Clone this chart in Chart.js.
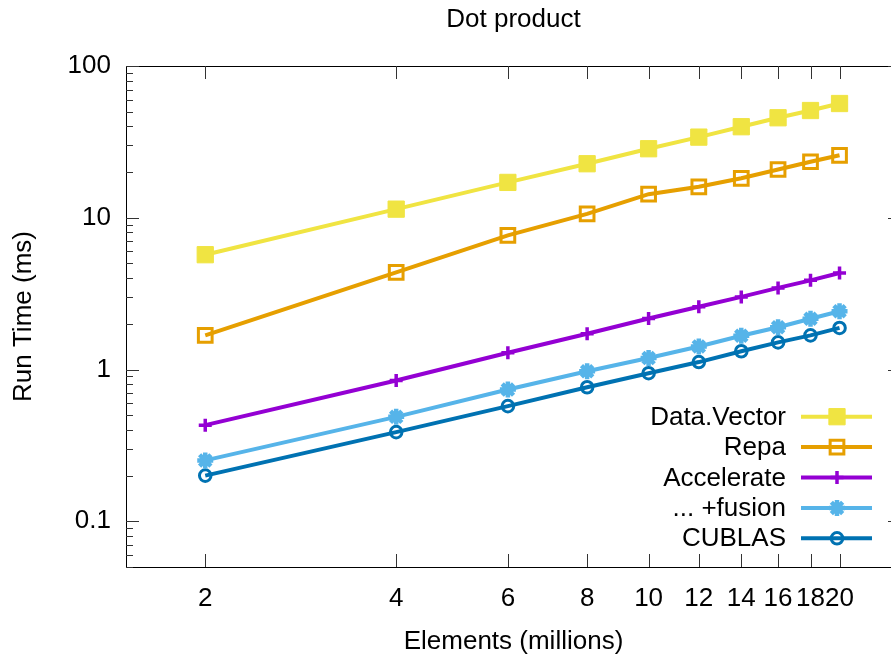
<!DOCTYPE html>
<html><head><meta charset="utf-8">
<script src="https://cdn.jsdelivr.net/npm/chart.js@4.4.1/dist/chart.umd.min.js"></script>
<style>html,body{margin:0;padding:0;background:#fff;overflow:hidden;width:891px;height:657px;}</style>
</head><body>
<canvas id="c" width="901" height="657"></canvas>
<script>
// ---- data ----
const titleText = 'Dot product';
const xLabel = 'Elements (millions)';
const yLabel = 'Run Time (ms)';
const elements = [2, 4, 6, 8, 10, 12, 14, 16, 18, 20];
const xTickValues = [2, 4, 6, 8, 10, 12, 14, 16, 18, 20];
const yMajorTicks = [0.1, 1, 10, 100];
const yMinorTicks = [0.05, 0.06, 0.07, 0.08, 0.09, 0.2, 0.3, 0.4, 0.5, 0.6, 0.7, 0.8, 0.9,
  2, 3, 4, 5, 6, 7, 8, 9, 20, 30, 40, 50, 60, 70, 80, 90];
const seriesNames = ['Data.Vector', 'Repa', 'Accelerate', '... +fusion', 'CUBLAS'];
const dataVector = [5.71, 11.4, 17.1, 22.7, 28.5, 34.0, 39.8, 45.6, 50.9, 56.6];
const repa       = [1.68, 4.37, 7.66, 10.6, 14.3, 16.0, 18.2, 20.8, 23.4, 25.8];
const accelerate = [0.430, 0.846, 1.29, 1.72, 2.17, 2.59, 3.01, 3.45, 3.87, 4.33];
const fusion     = [0.252, 0.488, 0.738, 0.975, 1.19, 1.42, 1.67, 1.90, 2.16, 2.42];
const cublas     = [0.200, 0.387, 0.574, 0.764, 0.946, 1.12, 1.32, 1.51, 1.68, 1.88];

// ---- styling ----
const FONT = "'Liberation Sans', Arial, Helvetica, sans-serif";
const FS = 26;
Chart.defaults.color = '#000';
Chart.defaults.font.family = FONT;
Chart.defaults.font.size = FS;

function ds(label, values, color, style, radius, bw, filled) {
  return {
    label: label,
    data: elements.map((x, i) => ({x: x, y: values[i]})),
    borderColor: color,
    backgroundColor: color,
    borderWidth: 4,
    pointStyle: style,
    pointRadius: radius,
    pointBorderWidth: bw,
    pointBorderColor: color,
    pointBackgroundColor: filled ? color : 'rgba(0,0,0,0)',
    tension: 0
  };
}

const datasets = [
  ds(seriesNames[0], dataVector, '#f0e442', 'rect', 11.5, 1, true),
  ds(seriesNames[1], repa, '#e69f00', 'rect', 9.7, 3, false),
  ds(seriesNames[2], accelerate, '#9400d3', 'cross', 6.5, 3.5, false),
  ds(seriesNames[3], fusion, '#56b4e9', 'star', 8, 4.5, false),
  ds(seriesNames[4], cublas, '#0072b2', 'circle', 5.8, 3, false)
];

const decor = {
  id: 'decor',
  beforeDatasetsDraw(chart) {
    const ctx = chart.ctx, a = chart.chartArea;
    const xs = chart.scales.x, ys = chart.scales.y;
    ctx.save();
    ctx.strokeStyle = '#000';
    ctx.lineWidth = 1;
    ctx.beginPath();
    ctx.rect(Math.round(a.left) + 0.5, Math.round(a.top) + 0.5,
             Math.round(a.right - a.left), Math.round(a.bottom - a.top));
    ctx.stroke();
    ctx.strokeStyle = '#333';
    ctx.beginPath();
    xTickValues.forEach(v => {
      const px = Math.round(xs.getPixelForValue(v)) + 0.5;
      ctx.moveTo(px, a.bottom); ctx.lineTo(px, a.bottom - 13);
      ctx.moveTo(px, a.top); ctx.lineTo(px, a.top + 13);
    });
    const yt = (v, len) => {
      const py = Math.round(ys.getPixelForValue(v)) + 0.5;
      ctx.moveTo(a.left, py); ctx.lineTo(a.left + len, py);
      ctx.moveTo(a.right, py); ctx.lineTo(a.right - len, py);
    };
    yMajorTicks.forEach(v => yt(v, 13));
    yMinorTicks.forEach(v => yt(v, 7));
    ctx.stroke();
    ctx.restore();
  },
  afterDraw(chart) {
    const ctx = chart.ctx, a = chart.chartArea;
    ctx.save();
    ctx.fillStyle = '#000';
    ctx.font = FS + 'px ' + FONT;
    ctx.textAlign = 'center';
    ctx.textBaseline = 'alphabetic';
    ctx.fillText(titleText, (a.left + a.right) / 2, 27);
    // legend
    const textRight = 786, lx1 = 801, lx2 = 872, mx = 837, y0 = 416.7, dy = 30.4;
    chart.data.datasets.forEach((d, i) => {
      const y = y0 + i * dy;
      ctx.fillStyle = '#000';
      ctx.textAlign = 'right';
      ctx.textBaseline = 'middle';
      ctx.fillText(d.label, textRight, y + 1);
      ctx.strokeStyle = d.borderColor;
      ctx.lineWidth = d.borderWidth;
      ctx.beginPath();
      ctx.moveTo(lx1, y); ctx.lineTo(lx2, y);
      ctx.stroke();
      ctx.strokeStyle = d.pointBorderColor;
      ctx.fillStyle = d.pointBackgroundColor;
      ctx.lineWidth = d.pointBorderWidth;
      Chart.helpers.drawPoint(ctx, {pointStyle: d.pointStyle, radius: d.pointRadius,
        borderWidth: d.pointBorderWidth, rotation: 0}, mx, y);
    });
    ctx.restore();
  }
};

new Chart(document.getElementById('c'), {
  type: 'line',
  data: {datasets: datasets},
  plugins: [decor],
  options: {
    responsive: false,
    animation: false,
    events: [],
    layout: {autoPadding: false, padding: {top: 66, right: 0, left: 0, bottom: 0}},
    plugins: {legend: {display: false}, title: {display: false}, tooltip: {enabled: false}},
    scales: {
      x: {
        type: 'logarithmic',
        min: 1.5, max: 25,
        afterBuildTicks: s => { s.ticks = xTickValues.map(v => ({value: v})); },
        afterFit: s => { s.height = 90; s.paddingLeft = 0; s.paddingRight = 0; },
        grid: {display: false, drawTicks: false},
        border: {display: false},
        ticks: {autoSkip: false, maxRotation: 0, minRotation: 0, padding: 16,
          callback: v => String(v), font: {size: FS}},
        title: {display: true, text: xLabel, font: {size: FS}, padding: {top: 0, bottom: 0}}
      },
      y: {
        type: 'logarithmic',
        min: 0.05, max: 100,
        afterBuildTicks: s => {
          s.ticks = yMinorTicks.concat(yMajorTicks).sort((p, q) => p - q).map(v => ({value: v}));
        },
        afterFit: s => { s.width = 126; s.paddingTop = 0; s.paddingBottom = 0; },
        grid: {display: false, drawTicks: false},
        border: {display: false},
        ticks: {autoSkip: false, padding: 15,
          callback: v => (yMajorTicks.indexOf(v) >= 0 ? String(v) : ''), font: {size: FS}},
        title: {display: true, text: yLabel, font: {size: FS}, padding: {top: 8, bottom: 0}}
      }
    }
  }
});
</script>
</body></html>
